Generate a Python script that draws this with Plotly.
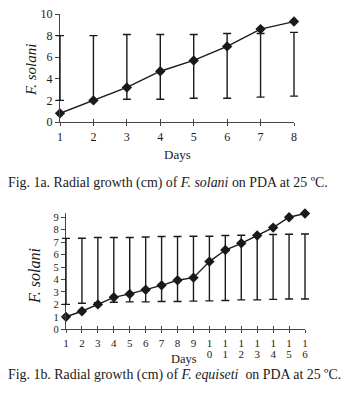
import plotly.graph_objects as go

# The page body has an 8 px default margin, so the figure is laid out in
# screenshot pixels minus that offset.
OFF = 8
W, H = 357 - OFF, 417 - OFF

# ---- data: Fig 1a (F. solani) ----
days_a = [1, 2, 3, 4, 5, 6, 7, 8]
growth_a = [0.8, 2.0, 3.2, 4.7, 5.7, 7.0, 8.6, 9.3]
err_low_a = [2.0, 2.0, 2.1, 2.1, 2.2, 2.2, 2.3, 2.4]
err_high_a = [8.0, 8.0, 8.1, 8.1, 8.1, 8.2, 8.2, 8.3]
yticks_a = [0, 2, 4, 6, 8, 10]

# ---- data: Fig 1b (F. equiseti) ----
days_b = list(range(1, 17))
growth_b = [1.0, 1.45, 2.0, 2.57, 2.84, 3.18, 3.53, 3.94, 4.15, 5.44, 6.37, 6.91, 7.53, 8.17, 9.0, 9.3]
err_low_b = [2.0, 2.09, 2.14, 2.17, 2.2, 2.2, 2.23, 2.23, 2.26, 2.28, 2.31, 2.36, 2.36, 2.4, 2.43, 2.43]
err_high_b = [7.3, 7.31, 7.37, 7.37, 7.37, 7.42, 7.45, 7.45, 7.47, 7.47, 7.53, 7.56, 7.56, 7.61, 7.64, 7.66]
yticks_b = [0, 1, 2, 3, 4, 5, 6, 7, 8, 9]
tick_row1_b = ["1", "2", "3", "4", "5", "6", "7", "8", "9", "1", "1", "1", "1", "1", "1", "1"]
tick_row2_b = ["", "", "", "", "", "", "", "", "", "0", "1", "2", "3", "4", "5", "6"]

FONT = "Liberation Serif"
INK = "#1a1a1a"
AXC = "#444"


def px_x(p):
    return (p - OFF) / W


def px_y(p):
    return 1 - (p - OFF) / H


fig = go.Figure()

# pixel geometry of the two panels (screenshot coordinates)
A = dict(x0=60, x1=294, y0=122, y1=14, xr=[1, 8], yr=[0, 10])
B = dict(x0=66, x1=305, y0=329.3, y1=212.9, xr=[1, 16], yr=[0, 9.35])
PADPX = 7  # extra room so end error-bar caps are not clipped


def ext(p):
    """domain/range of an invisible twin subplot, wider by PADPX on both sides"""
    upx = (p["x1"] - p["x0"]) / (p["xr"][1] - p["xr"][0])
    e = PADPX / upx
    dom = [px_x(p["x0"] - PADPX), px_x(p["x1"] + PADPX)]
    rng = [p["xr"][0] - e, p["xr"][1] + e]
    return dom, rng


def add_panel(xs, ys, lo, hi, xa, ya, exa, eya):
    mid = [(a + b) / 2 for a, b in zip(lo, hi)]
    half = [(b - a) / 2 for a, b in zip(lo, hi)]
    fig.add_trace(go.Scatter(
        x=xs, y=mid, mode="markers", marker=dict(size=1, opacity=0),
        error_y=dict(type="data", array=half, symmetric=True, color=INK,
                     thickness=1.4, width=4),
        xaxis=exa, yaxis=eya, hoverinfo="skip", showlegend=False))
    fig.add_trace(go.Scatter(
        x=xs, y=ys, mode="lines+markers",
        line=dict(color=INK, width=1.4),
        marker=dict(symbol="diamond", size=8, color=INK),
        xaxis=xa, yaxis=ya, showlegend=False, cliponaxis=False))


add_panel(days_a, growth_a, err_low_a, err_high_a, "x", "y", "x5", "y5")
add_panel(days_b, growth_b, err_low_b, err_high_b, "x2", "y2", "x6", "y6")

axis_common = dict(showgrid=False, zeroline=False, showline=True, linecolor=AXC,
                   linewidth=1.2, ticks="outside", ticklen=3, tickcolor=AXC,
                   automargin=False, ticklabeloverflow="allow",
                   tickfont=dict(family=FONT, size=12, color=INK))
hidden = dict(visible=False, showgrid=False, zeroline=False, automargin=False)

XA_DOM = [px_x(A["x0"]), px_x(A["x1"])]
YA_DOM = [px_y(A["y0"]), px_y(A["y1"])]
XB_DOM = [px_x(B["x0"]), px_x(B["x1"])]
YB_DOM = [px_y(B["y0"]), px_y(B["y1"])]
exa_dom, exa_rng = ext(A)
exb_dom, exb_rng = ext(B)
small_tick_font = dict(family=FONT, size=11, color=INK)
ytick_font_b = dict(family=FONT, size=10.5, color=INK)


def note(text, x, y, size, xanchor="center", angle=0):
    return dict(text=text, x=px_x(x), y=px_y(y), xref="paper", yref="paper",
                xanchor=xanchor, yanchor="middle", textangle=angle, showarrow=False,
                font=dict(family=FONT, size=size, color=INK))


fig.update_layout(
    width=W, height=H, margin=dict(l=0, r=0, t=0, b=0, pad=0),
    paper_bgcolor="white", plot_bgcolor="rgba(0,0,0,0)",
    xaxis=dict(axis_common, domain=XA_DOM, range=A["xr"], tickvals=days_a, anchor="y"),
    yaxis=dict(axis_common, domain=YA_DOM, range=A["yr"], tickvals=yticks_a, anchor="x",
               ticklen=4),
    xaxis2=dict(axis_common, domain=XB_DOM, range=B["xr"], tickvals=days_b,
                ticktext=tick_row1_b, anchor="y2", tickfont=small_tick_font),
    yaxis2=dict(axis_common, domain=YB_DOM, range=B["yr"], tickvals=yticks_b, anchor="x2",
                ticklen=4, tickfont=ytick_font_b),
    # inside tick halves (ticks cross the axis) + second row of two-digit labels
    xaxis3=dict(overlaying="x2", anchor="y2", domain=XB_DOM, range=B["xr"], showline=False,
                showgrid=False, zeroline=False, ticks="inside", ticklen=3, tickcolor=AXC,
                automargin=False, tickvals=days_b, ticktext=tick_row2_b,
                ticklabelstandoff=17, tickfont=small_tick_font),
    xaxis4=dict(overlaying="x", anchor="y", domain=XA_DOM, range=A["xr"], showline=False,
                showgrid=False, zeroline=False, ticks="inside", ticklen=3, tickcolor=AXC,
                automargin=False, tickvals=days_a, showticklabels=False),
    # invisible twins used only for the error bars
    xaxis5=dict(hidden, domain=exa_dom, range=exa_rng, anchor="y5"),
    yaxis5=dict(hidden, domain=YA_DOM, range=A["yr"], anchor="x5"),
    xaxis6=dict(hidden, domain=exb_dom, range=exb_rng, anchor="y6"),
    yaxis6=dict(hidden, domain=YB_DOM, range=B["yr"], anchor="x6"),
    annotations=[
        note("<i>F. solani</i>", 31, 70, 15, angle=-90),
        note("Days", 177, 154, 13),
        note("Fig. 1a. Radial growth (cm) of <i>F. solani</i> on PDA at 25 \u00baC.", 6, 183, 13.9,
             xanchor="left"),
        note("<i>F. solani</i>", 34, 276, 16, angle=-90),
        note("Days", 184, 359, 12.5),
        note("Fig. 1b. Radial growth (cm) of <i>F. equiseti</i>  on PDA at 25 \u00baC.", 6, 375, 13.9,
             xanchor="left"),
    ],
)

# invisible anchor traces so the overlay tick axes are drawn
fig.add_trace(go.Scatter(x=[1], y=[0], xaxis="x3", yaxis="y2", mode="markers",
                         marker=dict(opacity=0), hoverinfo="skip", showlegend=False))
fig.add_trace(go.Scatter(x=[1], y=[0], xaxis="x4", yaxis="y", mode="markers",
                         marker=dict(opacity=0), hoverinfo="skip", showlegend=False))

fig.write_html("out.html")
